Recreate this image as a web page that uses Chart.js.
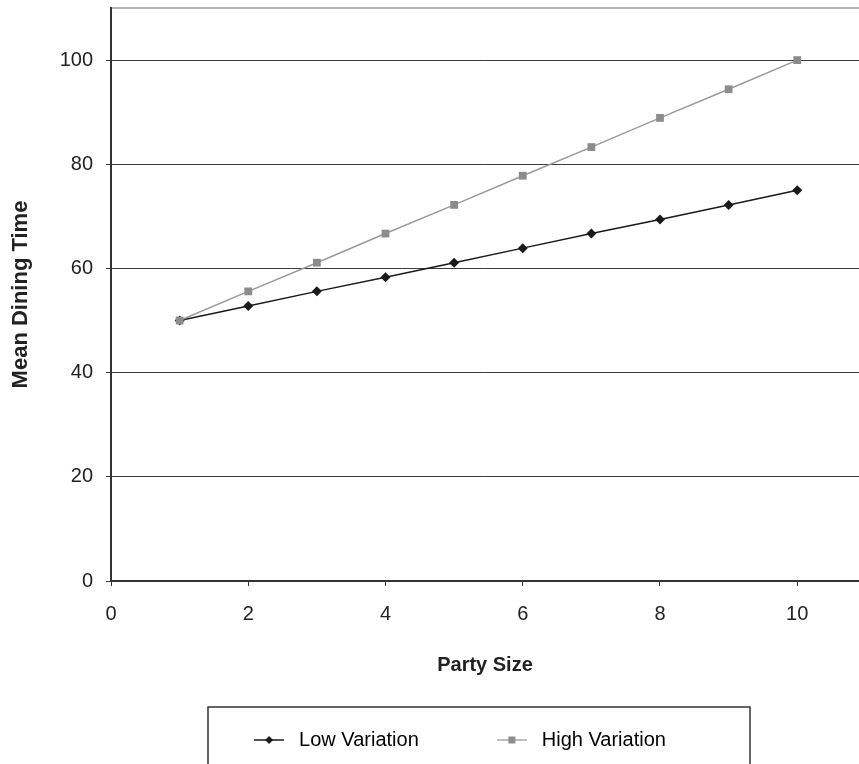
<!DOCTYPE html>
<html>
<head>
<meta charset="utf-8">
<script src="https://cdn.jsdelivr.net/npm/chart.js@4.4.1/dist/chart.umd.min.js"></script>
<style>
  html, body { margin: 0; padding: 0; background: #fff; overflow: hidden; }
  #wrap { width: 859px; height: 764px; }
</style>
</head>
<body>
<div id="wrap"><canvas id="myChart" width="859" height="764"></canvas></div>
<script>
// values
const partySizes = [1, 2, 3, 4, 5, 6, 7, 8, 9, 10];
const lowVariation = [50, 52.8, 55.6, 58.3, 61.1, 63.9, 66.7, 69.4, 72.2, 75];
const highVariation = [50, 55.6, 61.1, 66.7, 72.2, 77.8, 83.3, 88.9, 94.4, 100];
const xTicks = [0, 2, 4, 6, 8, 10];
const yTicks = [0, 20, 40, 60, 80, 100];
const seriesNames = ['Low Variation', 'High Variation'];

Chart.defaults.font.family = '"Liberation Sans", Arial, sans-serif';
Chart.defaults.font.size = 20;
Chart.defaults.color = '#222';

const lowColor = '#1a1a1a';
const highColor = '#8c8c8c';

// little line+marker picture for the legend
function legendIcon(color, lineColor, style) {
    const c = document.createElement('canvas');
    c.width = 30;
    c.height = 12;
    const g = c.getContext('2d');
    g.strokeStyle = lineColor;
    g.lineWidth = 1.5;
    g.beginPath();
    g.moveTo(0, 6);
    g.lineTo(30, 6);
    g.stroke();
    g.fillStyle = color;
    if (style === 'rectRot') {
        g.beginPath();
        g.moveTo(15, 2);
        g.lineTo(19, 6);
        g.lineTo(15, 10);
        g.lineTo(11, 6);
        g.closePath();
        g.fill();
    } else {
        g.fillRect(11.5, 2.5, 7, 7);
    }
    return c;
}

const toPoints = (xs, ys) => xs.map((x, i) => ({ x: x, y: ys[i] }));

// frame round the legend, plus a nudge to the right like the original
const legendFrame = {
    id: 'legendFrame',
    afterLayout(chart) {
        chart.legend.left += 28;
        chart.legend.right += 28;
    },
    afterDraw(chart) {
        const lg = chart.legend;
        const cx = (lg.left + lg.right) / 2;
        const ctx = chart.ctx;
        ctx.save();
        ctx.strokeStyle = '#333';
        ctx.lineWidth = 1.5;
        ctx.strokeRect(cx - 249.5, lg.top + 50, 542, lg.height + 20);
        ctx.restore();
    }
};

const ctx = document.getElementById('myChart').getContext('2d');
const myChart = new Chart(ctx, {
    type: 'line',
    data: {
        datasets: [
            {
                label: seriesNames[0],
                data: toPoints(partySizes, lowVariation),
                borderColor: lowColor,
                backgroundColor: lowColor,
                borderWidth: 1.5,
                pointStyle: 'rectRot',
                pointRadius: 5,
                pointBorderWidth: 0,
                tension: 0,
                order: 1
            },
            {
                label: seriesNames[1],
                data: toPoints(partySizes, highVariation),
                borderColor: '#9a9a9a',
                backgroundColor: highColor,
                borderWidth: 1.5,
                pointStyle: 'rect',
                pointRadius: 5.5,
                pointBorderWidth: 0,
                tension: 0,
                order: 0
            }
        ]
    },
    options: {
        responsive: false,
        animation: false,
        events: [],
        layout: { autoPadding: false, padding: { top: 8, left: 0, right: 0, bottom: 4 } },
        plugins: {
            tooltip: { enabled: false },
            legend: {
                position: 'bottom',
                labels: {
                    usePointStyle: true,
                    pointStyleWidth: 40,
                    padding: 73,
                    color: '#222',
                    font: { size: 20 },
                    generateLabels: function (chart) {
                        return [
                            { text: seriesNames[0], pointStyle: legendIcon(lowColor, lowColor, 'rectRot'), lineWidth: 0, datasetIndex: 0, hidden: false },
                            { text: seriesNames[1], pointStyle: legendIcon(highColor, '#a8a8a8', 'rect'), lineWidth: 0, datasetIndex: 1, hidden: false }
                        ];
                    }
                }
            }
        },
        scales: {
            x: {
                type: 'linear',
                min: 0,
                max: 10.9,
                afterBuildTicks: axis => { axis.ticks = xTicks.map(v => ({ value: v })); },
                afterFit: axis => { axis.height = 76; axis.paddingLeft = 0; axis.paddingRight = 0; },
                grid: { drawOnChartArea: false, color: '#333', tickLength: 5 },
                border: { color: '#333', width: 2 },
                ticks: { padding: 16, maxRotation: 0, autoSkip: false },
                title: {
                    display: true,
                    text: 'Party Size',
                    font: { size: 20, weight: 'bold' },
                    padding: { top: 0, bottom: -20 }
                }
            },
            x2: {
                type: 'linear',
                position: 'top',
                afterFit: axis => { axis.height = 0; axis.paddingLeft = 0; axis.paddingRight = 0; },
                grid: { drawOnChartArea: false, drawTicks: false, color: 'rgba(0,0,0,0)' },
                border: { color: '#b4b4b4', width: 2 },
                ticks: { display: false }
            },
            y: {
                type: 'linear',
                min: 0,
                max: 110,
                afterBuildTicks: axis => { axis.ticks = yTicks.map(v => ({ value: v })); },
                afterFit: axis => { axis.width = 111; axis.paddingTop = 0; axis.paddingBottom = 0; },
                grid: { color: '#3c3c3c', lineWidth: 1, tickLength: 5 },
                border: { color: '#333', width: 2 },
                ticks: { padding: 13 },
                title: {
                    display: true,
                    text: 'Mean Dining Time',
                    font: { size: 22, weight: 'bold' },
                    padding: { top: 7.3, bottom: 0 }
                }
            }
        }
    },
    plugins: [legendFrame]
});
</script>
</body>
</html>
